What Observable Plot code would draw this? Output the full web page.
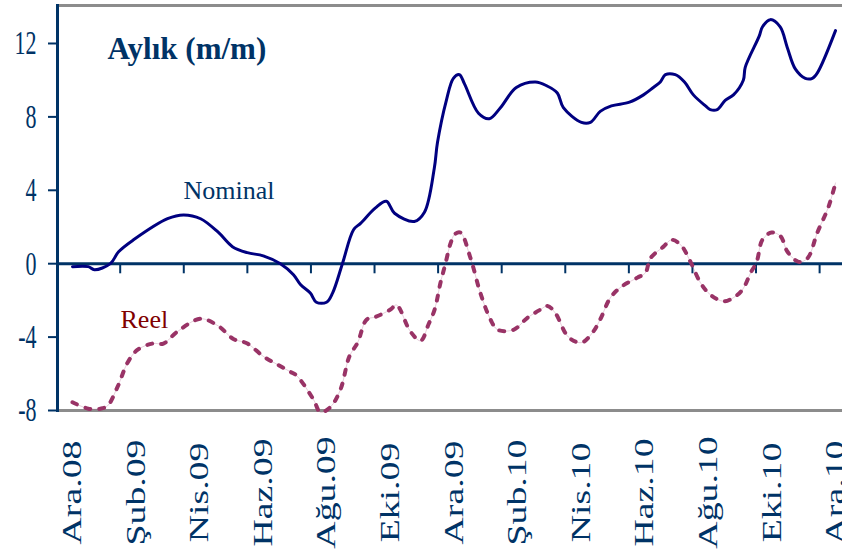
<!DOCTYPE html>
<html><head><meta charset="utf-8">
<script src="https://cdn.jsdelivr.net/npm/d3@7"></script>
<script src="https://cdn.jsdelivr.net/npm/@observablehq/plot@0.6"></script>
<style>html,body{margin:0;padding:0;background:#fff;}</style>
</head><body>
<script>
// month index (0 = Ara.08 ... 24 = Ara.10)
const xLabels = ["Ara.08","Şub.09","Nis.09","Haz.09","Ağu.09","Eki.09","Ara.09","Şub.10","Nis.10","Haz.10","Ağu.10","Eki.10","Ara.10"];
const xLabelPos = [0,2,4,6,8,10,12,14,16,18,20,22,24];
const xTickPos = [1.5,3.5,5.5,7.5,9.5,11.5,13.5,15.5,17.5,19.5,21.5,23.5];
const yTicks = [-8,-4,0,4,8,12];

const nominalT = [0,0.5,0.69,1.19,1.45,1.92,2.99,3.49,4.03,4.59,5.03,5.5,6.0,6.54,6.95,7.17,7.48,7.67,7.99,8.18,8.49,8.84,9.06,9.53,9.87,10.13,10.75,11.07,11.38,11.48,11.76,11.98,12.17,12.33,12.77,13.11,13.46,13.96,14.56,14.91,15.25,15.44,16.01,16.29,16.6,16.95,17.52,17.96,18.27,18.49,18.65,18.96,19.25,19.53,19.91,20.06,20.28,20.53,20.79,21.1,21.16,21.6,21.7,21.95,22.26,22.48,22.74,23.05,23.27,23.43,24.0];
const nominalV = [-0.16,-0.16,-0.33,0,0.65,1.3,2.45,2.66,2.45,1.7,0.93,0.6,0.43,0,-0.6,-1.14,-1.6,-2.1,-2.1,-1.6,0,1.85,2.2,3.04,3.4,2.75,2.3,2.8,5.2,6.6,8.9,10.1,10.3,9.8,8.2,7.9,8.5,9.6,9.9,9.7,9.3,8.5,7.7,7.7,8.3,8.6,8.8,9.2,9.6,9.9,10.3,10.3,9.9,9.2,8.6,8.4,8.4,8.9,9.2,10.0,10.7,12.4,12.9,13.3,12.9,11.8,10.6,10.1,10.1,10.4,12.7];

const reelT = [0,0.5,0.88,1.1,1.42,1.73,2.04,2.52,2.86,3.3,4.03,4.59,5.06,5.5,6.0,6.45,6.86,7.05,7.58,7.8,8.12,8.43,8.71,8.97,9.25,9.53,10.0,10.19,10.63,10.95,11.2,11.39,11.58,11.73,11.89,12.02,12.2,12.52,12.83,13.15,13.37,13.87,14.31,14.72,14.94,15.19,15.6,16.01,16.36,16.61,16.92,17.27,17.77,18.02,18.18,18.59,18.84,19.13,19.44,19.75,20.07,20.48,20.79,21.08,21.33,21.52,21.7,21.99,22.27,22.49,22.84,23.12,23.43,23.78,24.0];
const reelV = [-7.55,-7.9,-7.9,-7.75,-6.7,-5.4,-4.7,-4.35,-4.35,-3.7,-3.0,-3.4,-4.1,-4.35,-5.05,-5.5,-5.9,-6.1,-7.4,-8.1,-7.8,-6.85,-5.05,-4.3,-3.05,-2.9,-2.5,-2.25,-3.7,-4.2,-3.3,-2.5,-1.0,0,1.1,1.6,1.7,0.3,-1.6,-3.05,-3.6,-3.6,-2.95,-2.5,-2.3,-2.7,-4.0,-4.3,-3.75,-3.0,-1.85,-1.25,-0.76,-0.5,0.3,0.93,1.3,1.03,0.1,-1.03,-1.7,-2.05,-1.85,-1.4,-0.5,0.1,1.3,1.7,1.5,0.65,0.1,0.3,1.7,3.1,4.4];

const nominal = nominalT.map((t,i)=>({t, v: nominalV[i]}));
const reel = reelT.map((t,i)=>({t, v: reelV[i]}));
const labels = xLabelPos.map((p,i)=>({p, s: xLabels[i]}));

const navy = "#003366";
const plot = Plot.plot({
  width: 842, height: 553,
  marginLeft: 57, marginRight: 0, marginTop: 5, marginBottom: 143,
  style: {fontFamily: "'Liberation Serif', 'Times New Roman', serif", background: "#fff"},
  x: {domain: [-0.472, 24.22], axis: null},
  y: {domain: [-8, 14.07], axis: null},
  marks: [
    Plot.frame({anchor: "top", stroke: "#8c8c8c", strokeWidth: 3}),
    Plot.frame({anchor: "bottom", stroke: "#8c8c8c", strokeWidth: 3}),
    Plot.ruleY([0], {stroke: navy, strokeWidth: 3}),
    Plot.ruleX(xTickPos, {x: d => d, y1: 0, y2: -0.55, stroke: navy, strokeWidth: 2}),
    Plot.frame({anchor: "left", stroke: navy, strokeWidth: 3}),
    Plot.axisY(yTicks, {tickSize: 9, tickPadding: 12, fontSize: 22, color: navy, strokeWidth: 2, tickFormat: d => String(d), label: null}),
    Plot.line(nominal, {x: "t", y: "v", stroke: "#000080", strokeWidth: 3, curve: "catmull-rom"}),
    Plot.line(reel, {x: "t", y: "v", stroke: "#993366", strokeWidth: 0.6, strokeOpacity: 0.4, curve: "catmull-rom"}),
    Plot.line(reel, {x: "t", y: "v", stroke: "#993366", strokeWidth: 4, strokeDasharray: "5,9", curve: "catmull-rom"}),
    Plot.text(labels, {x: "p", text: "s", frameAnchor: "bottom", dy: 82, rotate: -90, textAnchor: "middle", lineAnchor: "middle", fontSize: 27, fill: navy}),
    Plot.text(["Aylık (m/m)"], {frameAnchor: "top-left", dx: 50, dy: 53, textAnchor: "start", lineAnchor: "bottom", fontSize: 31, fontWeight: "bold", fill: navy}),
    Plot.text(["Nominal"], {x: [3.49], y: [3.55], textAnchor: "start", lineAnchor: "bottom", fontSize: 26, fill: navy}),
    Plot.text(["Reel"], {x: [1.51], y: [-3.48], textAnchor: "start", lineAnchor: "bottom", fontSize: 26, fill: "#800000"})
  ]
});
document.body.appendChild(plot);

function stretch(sel, sx, sy) {
  sel.each(function() {
    const t = this.getAttribute("transform") || "";
    const x = this.getAttribute("x");
    if (x != null) { this.removeAttribute("x"); this.setAttribute("transform", `${t} translate(${x},0) scale(${sx},${sy})`); }
    else this.setAttribute("transform", `${t} scale(${sx},${sy})`);
  });
}
const svg = d3.select(plot);
const yStr = yTicks.map(String);
stretch(svg.selectAll("text").filter(function(){ return yStr.includes(this.textContent); }), 1, 1.55);
stretch(svg.selectAll("text").filter(function(){ return xLabels.includes(this.textContent); }), 1.4, 1);
</script>
</body></html>
